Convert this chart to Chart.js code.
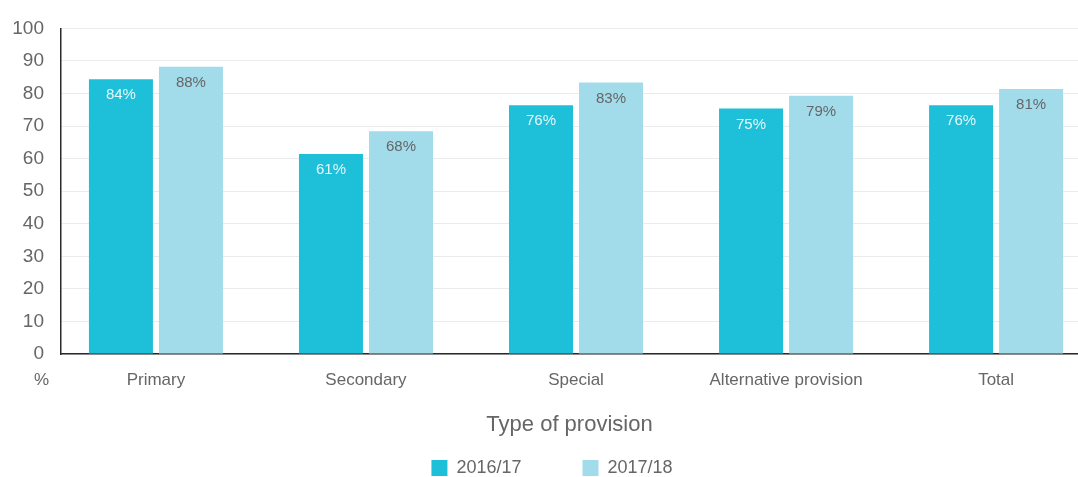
<!DOCTYPE html>
<html><head><meta charset="utf-8">
<script src="https://cdn.jsdelivr.net/npm/chart.js@4/dist/chart.umd.min.js"></script>
<style>html,body{margin:0;padding:0;background:#fff;overflow:hidden}#wrap{position:relative;width:1078px;height:477px}</style>
</head><body><div id="wrap"><canvas id="c"></canvas></div>
<script>
const categories = ['Primary', 'Secondary', 'Special', 'Alternative provision', 'Total'];
const seriesNames = ['2016/17', '2017/18'];
const values2016 = [84.4, 61.4, 76.4, 75.4, 76.4];
const values2017 = [88.2, 68.4, 83.4, 79.3, 81.4];
const yTickValues = [0, 10, 20, 30, 40, 50, 60, 70, 80, 90, 100];
const xAxisTitle = 'Type of provision';
const yUnitLabel = '%';

const FONT = 'Liberation Sans, Arial, sans-serif';
const GREY = '#666666';

const toPoints = vals => vals.map((v, i) => ({ x: i, y: v }));

const labelPlugin = {
  id: 'barLabels',
  afterLayout(chart) {
    if (chart.legend) chart.legend.left += 26;
  },
  afterDatasetsDraw(chart) {
    const ctx = chart.ctx;
    ctx.save();
    ctx.font = '15px ' + FONT;
    ctx.textAlign = 'center';
    ctx.textBaseline = 'middle';
    chart.data.datasets.forEach((ds, di) => {
      const meta = chart.getDatasetMeta(di);
      ctx.fillStyle = di === 0 ? '#e6f8fb' : '#666666';
      meta.data.forEach((bar, i) => {
        ctx.fillText(Math.round(ds.data[i].y) + '%', bar.x, bar.y + 16);
      });
    });
    ctx.restore();
  },
  afterDraw(chart) {
    const ctx = chart.ctx;
    ctx.save();
    ctx.font = '17px ' + FONT;
    ctx.fillStyle = GREY;
    ctx.textAlign = 'center';
    ctx.textBaseline = 'middle';
    ctx.fillText(yUnitLabel, 41.5, chart.chartArea.bottom + 26);
    ctx.restore();
  }
};

new Chart(document.getElementById('c'), {
  type: 'bar',
  data: {
    datasets: [
      { label: seriesNames[0], data: toPoints(values2016), backgroundColor: '#1ebfd9', borderWidth: 0 },
      { label: seriesNames[1], data: toPoints(values2017), backgroundColor: '#a2dbea', borderWidth: 0 }
    ]
  },
  options: {
    responsive: true,
    maintainAspectRatio: false,
    animation: false,
    categoryPercentage: 0.6667,
    barPercentage: 0.914,
    layout: { padding: { top: 26, left: 0, right: 0, bottom: 0 } },
    plugins: {
      tooltip: { enabled: false },
      legend: {
        position: 'bottom',
        maxHeight: 79,
        labels: {
          boxWidth: 16, boxHeight: 16, padding: 61,
          color: GREY, font: { family: FONT, size: 18 }
        }
      }
    },
    scales: {
      x: {
        type: 'linear',
        bounds: 'data',
        offset: false,
        min: -0.452,
        max: 4.39,
        afterBuildTicks(scale) { scale.ticks = categories.map((c, i) => ({ value: i })); },
        afterFit(scale) { scale.height = 44; },
        grid: { display: false, drawTicks: false, offset: false },
        border: { display: true, color: '#2a2a2a', width: 1.5 },
        ticks: {
          autoSkip: false, maxRotation: 0, padding: 16,
          color: GREY, font: { family: FONT, size: 17 },
          callback: v => categories[v]
        },
        title: {
          display: true, text: xAxisTitle, color: GREY,
          font: { family: FONT, size: 22 },
          padding: { top: 0, bottom: -40 }
        }
      },
      y: {
        min: 0, max: 100,
        afterBuildTicks(scale) { scale.ticks = yTickValues.map(v => ({ value: v })); },
        afterFit(scale) { scale.width = 61; },
        grid: { color: '#ebebeb', lineWidth: 1, drawTicks: false },
        border: { display: true, color: '#2a2a2a', width: 1.5 },
        ticks: { padding: 17, color: GREY, font: { family: FONT, size: 19 } }
      }
    }
  },
  plugins: [labelPlugin]
});
</script></body></html>
